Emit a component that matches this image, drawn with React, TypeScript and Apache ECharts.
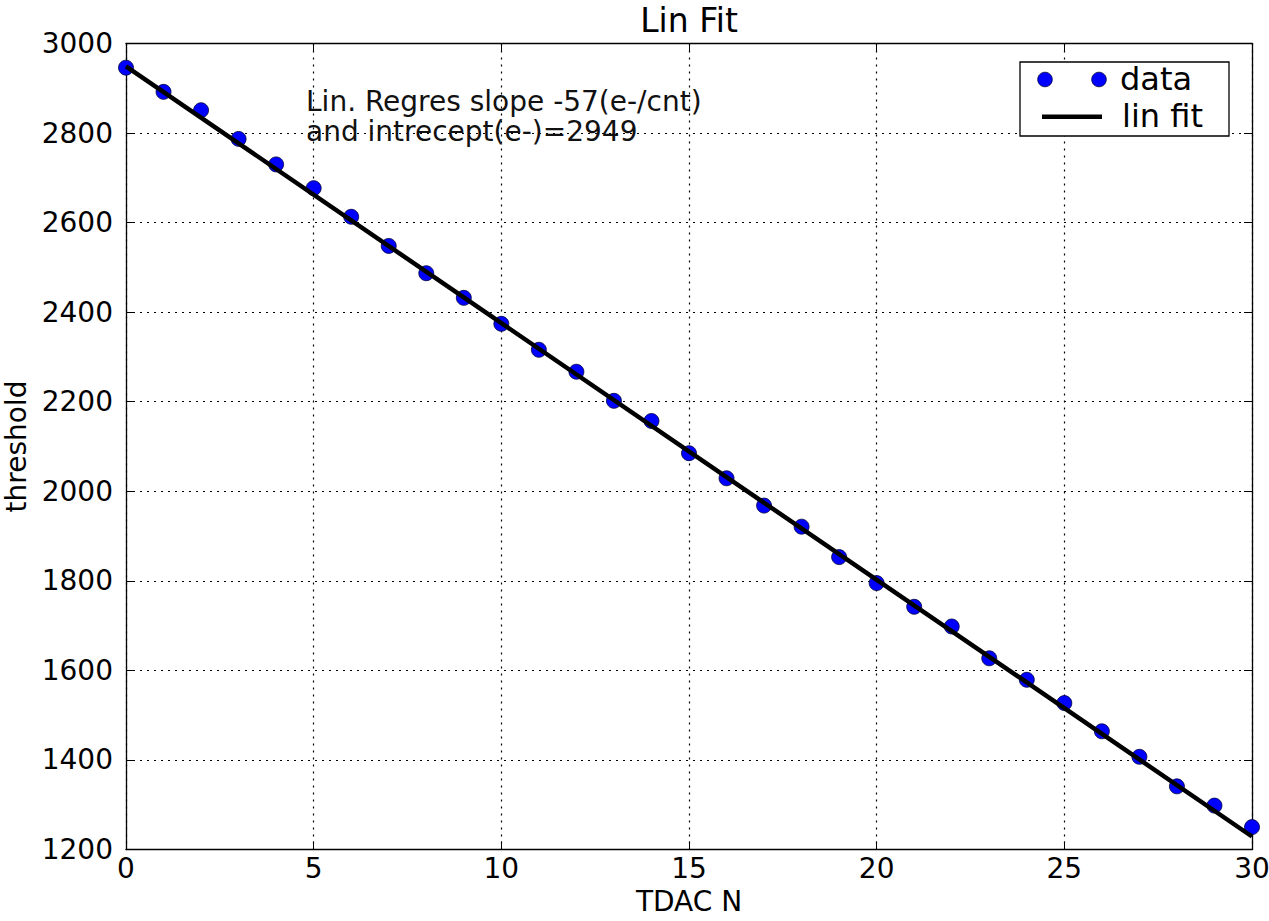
import React, { useEffect, useRef } from "react";
import * as echarts from "echarts";

const tdac = [0, 1, 2, 3, 4, 5, 6, 7, 8, 9, 10, 11, 12, 13, 14, 15, 16, 17, 18, 19, 20, 21, 22, 23, 24, 25, 26, 27, 28, 29, 30];
const threshold = [
  2946, 2892, 2851, 2787, 2730, 2677, 2613, 2548, 2487, 2432, 2374, 2316, 2267, 2202, 2157, 2085,
  2029, 1968, 1921, 1853, 1795, 1742, 1698, 1627, 1579, 1527, 1464, 1407, 1341, 1298, 1250,
];
const fitX = [0, 30];
const fitY = [2949, 1229];

const titleText = "Lin Fit";
const xName = "TDAC N";
const yName = "threshold";
const annotationLines = ["Lin. Regres slope -57(e-/cnt)", "and intrecept(e-)=2949"];
const legendLabels = ["data", "lin fit"];

const FONT = "DejaVu Sans";

export default function App() {
  const ref = useRef<HTMLDivElement>(null);
  useEffect(() => {
    if (!ref.current) return;
    const chart = echarts.init(ref.current, undefined, { renderer: "svg" });
    const axisCommon = {
      type: "value" as const,
      axisLine: { show: true, onZero: false, lineStyle: { color: "#000", width: 1.3 } },
      axisTick: { show: true, inside: true, length: 8, lineStyle: { color: "#000", width: 1 } },
    };
    const labelStyle = { fontSize: 28, color: "#000", fontFamily: FONT };
    const splitStyle = { show: true, lineStyle: { color: "#000", width: 1.2, type: [2, 5] as number[] } };
    chart.setOption({
      animation: false,
      backgroundColor: "#fff",
      grid: {
        left: 126,
        top: 43.5,
        right: 17,
        bottom: 71.5,
        containLabel: false,
        outerBoundsMode: "none",
      },
      xAxis: [
        {
          ...axisCommon,
          position: "bottom",
          min: 0,
          max: 30,
          interval: 5,
          axisLabel: { ...labelStyle, margin: 5, formatter: (v: number) => String(v) },
          splitLine: splitStyle,
          name: xName,
          nameLocation: "middle",
          nameGap: 36,
          nameTextStyle: { ...labelStyle },
        },
        {
          ...axisCommon,
          position: "top",
          min: 0,
          max: 30,
          interval: 5,
          axisLabel: { show: false },
          splitLine: { show: false },
        },
      ],
      yAxis: [
        {
          ...axisCommon,
          position: "left",
          min: 1200,
          max: 3000,
          interval: 200,
          axisLabel: { ...labelStyle, margin: 13, formatter: (v: number) => String(v) },
          splitLine: splitStyle,
          name: yName,
          nameLocation: "middle",
          nameGap: 92,
          nameTextStyle: { ...labelStyle },
        },
        {
          ...axisCommon,
          position: "right",
          min: 1200,
          max: 3000,
          interval: 200,
          axisLabel: { show: false },
          splitLine: { show: false },
        },
      ],
      series: [
        {
          type: "scatter",
          name: legendLabels[0],
          xAxisIndex: 0,
          yAxisIndex: 0,
          data: tdac.map((x, i) => [x, threshold[i]]),
          symbol: "circle",
          symbolSize: 15,
          itemStyle: { color: "#0000ff", borderColor: "#00003a", borderWidth: 0.8, opacity: 1 },
          clip: true,
        },
        {
          type: "line",
          name: legendLabels[1],
          xAxisIndex: 0,
          yAxisIndex: 0,
          data: fitX.map((x, i) => [x, fitY[i]]),
          symbol: "none",
          showSymbol: false,
          lineStyle: { color: "#000", width: 4.5 },
          clip: true,
        },
      ],
      graphic: [
        {
          type: "text",
          x: 689,
          y: 20,
          style: {
            text: titleText,
            fontSize: 33,
            fontFamily: FONT,
            fill: "#000",
            align: "center",
            verticalAlign: "middle",
          },
        },
        {
          type: "text",
          x: 306,
          y: 101,
          z: 10,
          style: { text: annotationLines[0], fontSize: 28, fontFamily: FONT, fill: "#111", align: "left", verticalAlign: "middle" },
        },
        {
          type: "text",
          x: 306,
          y: 131,
          z: 10,
          style: { text: annotationLines[1], fontSize: 28, fontFamily: FONT, fill: "#111", align: "left", verticalAlign: "middle" },
        },
        {
          type: "rect",
          z: 20,
          shape: { x: 1020, y: 62, width: 209, height: 74 },
          style: { fill: "#fff", stroke: "#000", lineWidth: 1.3 },
        },
        {
          type: "circle",
          z: 21,
          shape: { cx: 1045, cy: 79.5, r: 7.3 },
          style: { fill: "#0000ff", stroke: "#00003a", lineWidth: 0.8 },
        },
        {
          type: "circle",
          z: 21,
          shape: { cx: 1099, cy: 79.5, r: 7.3 },
          style: { fill: "#0000ff", stroke: "#00003a", lineWidth: 0.8 },
        },
        {
          type: "line",
          z: 21,
          shape: { x1: 1042, y1: 116.7, x2: 1102, y2: 116.7 },
          style: { stroke: "#000", lineWidth: 4.5 },
        },
        {
          type: "text",
          x: 1120,
          y: 79,
          z: 21,
          style: { text: legendLabels[0], fontSize: 32, fontFamily: FONT, fill: "#000", align: "left", verticalAlign: "middle" },
        },
        {
          type: "text",
          x: 1122,
          y: 116,
          z: 21,
          style: { text: legendLabels[1], fontSize: 32, fontFamily: FONT, fill: "#000", align: "left", verticalAlign: "middle" },
        },
      ],
    });
    return () => chart.dispose();
  }, []);
  return (
    <div
      ref={ref}
      style={{ position: "absolute", left: 0, top: 0, width: 1269, height: 921, background: "#fff" }}
    />
  );
}
